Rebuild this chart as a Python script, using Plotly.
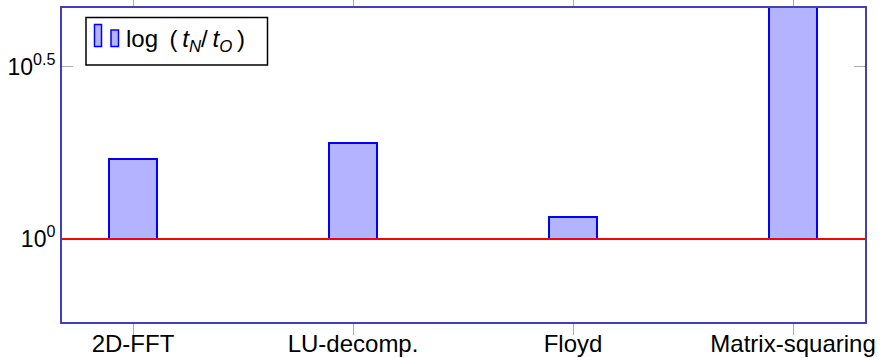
import plotly.graph_objects as go

categories = ["2D-FFT", "LU-decomp.", "Floyd", "Matrix-squaring"]
ratios = [1.705, 1.903, 1.156, 5.0]
baseline = 1.0
ytick_vals = [1.0, 10 ** 0.5]
ytick_text = ["10<sup>0</sup>", "10<sup>0.5</sup>"]

W, H = 883, 358
L, R, T, B = 62, 18, 8, 36
pw, ph = W - L - R, H - T - B

def px(x):
    return (x - L) / pw

def py(y):
    return (H - B - y) / ph

FONT = "Liberation Sans"
frame = "rgb(64,64,191)"

fig = go.Figure()
fig.add_trace(go.Bar(
    x=list(range(len(categories))), y=[r - baseline for r in ratios], base=baseline,
    width=0.216,
    marker=dict(color="rgb(179,179,255)", line=dict(color="rgb(0,0,255)", width=2)),
    showlegend=False,
))

fig.add_shape(type="line", xref="paper", x0=0, x1=1, yref="y", y0=baseline, y1=baseline,
              line=dict(color="rgb(255,0,0)", width=2), layer="above")

# legend box
fig.add_shape(type="rect", xref="paper", yref="paper", x0=px(86), x1=px(267.5), y0=py(17.5), y1=py(65),
              line=dict(color="black", width=1.5), fillcolor="white", layer="above")
fig.add_shape(type="rect", xref="paper", yref="paper", x0=px(94.5), x1=px(101.5), y0=py(24.5), y1=py(46.5),
              line=dict(color="rgb(0,0,255)", width=1.5), fillcolor="rgb(179,179,255)", layer="above")
fig.add_shape(type="rect", xref="paper", yref="paper", x0=px(111), x1=px(118.5), y0=py(30), y1=py(46.5),
              line=dict(color="rgb(0,0,255)", width=1.5), fillcolor="rgb(179,179,255)", layer="above")
sp = "\u2009"
legend_text = ("log " + sp + "(" + sp + "<i>t</i><sub><i>N</i></sub>" + "/" + sp +
               "<i>t</i><sub><i>O</i></sub>" + sp + ")")
fig.add_annotation(xref="paper", yref="paper", x=px(124), y=py(41), xanchor="left", yanchor="middle",
                   showarrow=False, text=legend_text,
                   font=dict(family=FONT, size=24, color="black"))

fig.update_layout(
    width=W, height=H, margin=dict(l=L, r=R, t=T, b=B, autoexpand=False),
    plot_bgcolor="white", paper_bgcolor="white",
    font=dict(family=FONT, size=24, color="black"),
    bargap=0,
    xaxis=dict(range=[-0.3227, 3.327], tickvals=list(range(len(categories))), ticktext=categories,
               showgrid=False, zeroline=False, showline=True, linecolor=frame, linewidth=2, mirror="ticks",
               ticks="outside", ticklen=11, tickcolor="rgb(170,170,170)", tickwidth=1, automargin=False,
               ticklabelstandoff=-12,
               tickfont=dict(family=FONT, size=24)),
    yaxis=dict(type="log", range=[-0.2409, 0.6703], tickvals=ytick_vals, ticktext=ytick_text,
               showgrid=False, zeroline=False, showline=True, linecolor=frame, linewidth=2, mirror="ticks",
               ticks="inside", ticklen=11, tickcolor="rgb(170,170,170)", tickwidth=1, automargin=False,
               tickfont=dict(family=FONT, size=23)),
)

fig.write_html("out.html", config={"displayModeBar": False},
               post_script="document.body.style.margin='0';document.body.style.overflow='hidden';")
